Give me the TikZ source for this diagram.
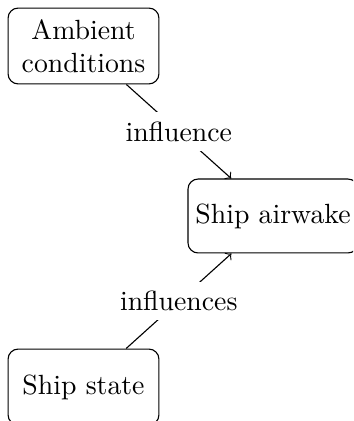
\documentclass[tikz,border=0pt]{standalone}
\usetikzlibrary{arrows}
\begin{document}
\begin{tikzpicture}[x=0.36pt,y=-0.36pt,
  block/.style={draw, rounded corners=3.6pt, align=center, inner sep=0pt, line width=0.4pt},
  rel/.style={fill=white, inner sep=3.33pt}]
  % page frame; the two lower boxes run past its edges
  \clip (0,0) rectangle (353,421);
  \useasboundingbox (0,0) rectangle (353,421);
  \node[block, minimum width=54.3pt, minimum height=27.3pt] (amb) at (83.5,46) {Ambient\\conditions};
  \node[block, minimum width=61.2pt, minimum height=26.6pt] (wake) at (273,216) {Ship airwake};
  \node[block, minimum width=54.3pt, minimum height=27.3pt] (state) at (83.5,387) {Ship state};
  \draw[->, line width=0.4pt] (amb) -- node[rel] {influence} (wake);
  \draw[->, line width=0.4pt] (state) -- node[rel] {influences} (wake);
\end{tikzpicture}
\end{document}
